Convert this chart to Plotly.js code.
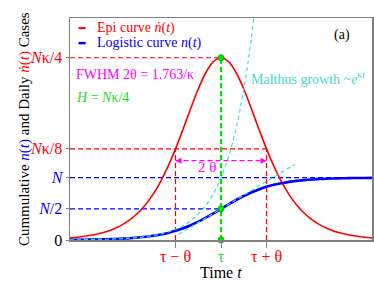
<!DOCTYPE html>
<html>
<head>
<meta charset="utf-8">
<script src="https://cdn.plot.ly/plotly-3.0.1.min.js"></script>
<style>html,body{margin:0;padding:0;background:#fff;}#chart{width:374px;height:286px;}</style>
</head>
<body>
<div id="chart"></div>
<script>
// Parameters (N normalised to 1, time normalised to [0,1])
const N = 1;
const kappa = 11.7;
const tau = 0.5;
const theta = 0.1507;          // half width at half maximum
const H = 2.925;               // peak of the epi curve, N*kappa/4
const arrowLevel = 1.273;      // height of the 2θ arrow

// Time samples
const time = [0,0.025,0.05,0.075,0.1,0.125,0.15,0.175,0.2,0.225,0.25,0.275,0.3,0.325,0.35,0.375,0.4,0.425,0.45,0.475,0.5,
              0.525,0.55,0.575,0.6,0.625,0.65,0.675,0.7,0.725,0.75,0.775,0.8,0.825,0.85,0.875,0.9,0.925,0.95,0.975,1];
// Logistic (cumulative) curve n(t)
const logistic = [0.003,0.004,0.005,0.007,0.009,0.012,0.016,0.022,0.029,0.039,0.051,0.067,0.088,0.114,0.147,0.188,0.237,0.294,0.358,0.427,0.5,
                  0.573,0.642,0.706,0.763,0.812,0.853,0.886,0.912,0.933,0.949,0.961,0.971,0.978,0.984,0.988,0.991,0.993,0.995,0.996,0.997];
// Epi (daily) curve ṅ(t)
const epi = [0.034,0.045,0.060,0.080,0.107,0.142,0.189,0.250,0.330,0.433,0.566,0.732,0.938,1.185,1.471,1.787,2.115,2.427,2.688,2.863,2.925,
             2.863,2.688,2.427,2.115,1.787,1.471,1.185,0.938,0.732,0.566,0.433,0.330,0.250,0.189,0.142,0.107,0.080,0.060,0.045,0.034];
// Malthus exponential growth
const malthusTime = [0,0.025,0.05,0.075,0.1,0.125,0.15,0.175,0.2,0.225,0.25,0.275,0.3,0.325,0.35,0.375,0.4,0.425,0.45,0.475,0.5,0.525,0.55,0.575,0.6,0.625];
const malthus = [0.0029,0.0039,0.0052,0.0069,0.0093,0.0124,0.0167,0.0223,0.0299,0.040,0.0537,0.0719,0.0963,0.129,0.173,0.232,0.310,0.416,0.557,0.746,1.0,1.340,1.795,2.405,3.222,4.317];
// Tangent line at the inflection point
const tangentTime = [0.36, 0.745];
const tangentValue = [0.0905, 1.2166];

// Tick labels
const yTickVals = [0, N/2, N, H/2, H];
const yTickText = ["0", "<span style='color:#0000ff'><i>N</i>/2</span>", "<span style='color:#0000ff'><i>N</i></span>",
                   "<span style='color:#ff0000'><i>N</i>κ/8</span>", "<span style='color:#ff0000'><i>N</i>κ/4</span>"];
const xTickVals = [tau - theta, tau, tau + theta];
const xTickText = ["<span style='color:#ff0000'>τ − θ</span>", "<span style='color:#22dd22'>τ</span>", "<span style='color:#ff0000'>τ + θ</span>"];

const RED = '#ff0000', BLUE = '#0000ff', CYAN = '#40e0d0', GREEN = '#00e600', MAG = '#ff00ff';
const FONT = 'Liberation Serif, Times New Roman, serif';
const dashR = '5px,3px';

function seg(x, y, color, width, dash) {
  return {x: x, y: y, mode: 'lines', line: {color: color, width: width, dash: dash}, hoverinfo: 'skip', showlegend: false};
}

const traces = [
  seg([0, tau], [H, H], RED, 1.2, dashR),
  seg([0, tau + theta], [H/2, H/2], RED, 1.2, dashR),
  seg([tau - theta, tau - theta], [0, H/2], RED, 1.2, dashR),
  seg([tau + theta, tau + theta], [0, H/2], RED, 1.2, dashR),
  seg([0, 1], [N, N], BLUE, 1.2, dashR),
  seg([0, tau], [N/2, N/2], BLUE, 1.2, dashR),
  seg([tau - theta, tau + theta], [arrowLevel, arrowLevel], MAG, 1.2, dashR),
  {x: time, y: epi, mode: 'lines', line: {color: RED, width: 1.6, shape: 'spline'}, showlegend: false},
  {x: time, y: logistic, mode: 'lines', line: {color: BLUE, width: 2.6, shape: 'spline'}, showlegend: false},
  {x: malthusTime, y: malthus, mode: 'lines', line: {color: CYAN, width: 1.2, dash: '4px,3px', shape: 'spline'}, showlegend: false},
  seg(tangentTime, tangentValue, CYAN, 1.2, '4px,3px'),
  seg([tau, tau], [0, H], GREEN, 2.2, '5px,3px'),
  {x: [tau, tau, tau], y: [H, N/2, 0], mode: 'markers', marker: {color: GREEN, size: 6, line: {width: 0.8, color: '#00a000'}}, cliponaxis: false, showlegend: false}
];

const annotations = [
  {text: "<span style='color:#ff0000'>Epi curve <i>ṅ</i>(<i>t</i>)</span>", x: 0.084, y: 3.40, xanchor: 'left', yanchor: 'middle', font: {size: 14}},
  {text: "<span style='color:#0000ff'>Logistic curve <i>n</i>(<i>t</i>)</span>", x: 0.084, y: 3.16, xanchor: 'left', yanchor: 'middle', font: {size: 14}},
  {text: "FWHM 2θ = 1.763/κ", x: 0.013, y: 2.65, xanchor: 'left', yanchor: 'middle', font: {size: 14, color: MAG}},
  {text: "<i>H</i> = <i>N</i>κ/4", x: 0.013, y: 2.295, xanchor: 'left', yanchor: 'middle', font: {size: 14, color: '#22dd22'}},
  {text: "Malthus growth ~<i>e</i><sup>κ<i>t</i></sup>", x: 0.593, y: 2.60, xanchor: 'left', yanchor: 'middle', font: {size: 14, color: '#48d8cc'}},
  {text: "(a)", x: 0.90, y: 3.29, xanchor: 'center', yanchor: 'middle', font: {size: 14, color: '#000'}},
  {text: "2 θ", x: 0.452, y: 1.17, xanchor: 'center', yanchor: 'middle', font: {size: 15, color: MAG}},
  {text: ' ', x: tau - theta, y: arrowLevel, ax: 9, ay: 0, showarrow: true, arrowhead: 2, arrowsize: 1, arrowwidth: 1.2, arrowcolor: MAG},
  {text: ' ', x: tau + theta, y: arrowLevel, ax: -9, ay: 0, showarrow: true, arrowhead: 2, arrowsize: 1, arrowwidth: 1.2, arrowcolor: MAG},
  {text: "Cummulative <span style='color:#0000ff'><i>n</i>(<i>t</i>)</span> and Daily <span style='color:#ff0000'><i>ṅ</i>(<i>t</i>)</span> Cases",
   xref: 'paper', yref: 'paper', x: -0.152, y: 0.5, xanchor: 'center', yanchor: 'middle', textangle: -90, font: {size: 15, color: '#000'}},
  {text: "Time <i>t</i>", xref: 'paper', yref: 'paper', x: 0.5, y: -0.148, xanchor: 'center', yanchor: 'middle', font: {size: 16, color: '#000'}}
].map(a => Object.assign({xref: 'x', yref: 'y', showarrow: false}, a));

const shapes = [
  {type: 'line', xref: 'x', yref: 'y', x0: 0.028, x1: 0.052, y0: 3.40, y1: 3.40, line: {color: RED, width: 2}},
  {type: 'line', xref: 'x', yref: 'y', x0: 0.028, x1: 0.052, y0: 3.16, y1: 3.16, line: {color: BLUE, width: 2.5}}
];

const layout = {
  width: 374, height: 286,
  margin: {l: 70, r: 2, t: 18, b: 46},
  paper_bgcolor: '#fff', plot_bgcolor: '#fff',
  font: {family: FONT, size: 16, color: '#000'},
  showlegend: false,
  xaxis: {range: [0, 1], showgrid: false, zeroline: false, showline: true, mirror: true, linecolor: '#808080', linewidth: 1.5,
          tickvals: xTickVals, ticktext: xTickText, ticks: 'outside', ticklen: 6, tickcolor: '#808080', tickfont: {size: 16},
          tickangle: 0, ticklabelstandoff: -5},
  yaxis: {range: [0, 3.563], showgrid: false, zeroline: false, showline: true, mirror: true, linecolor: '#808080', linewidth: 1.5,
          tickvals: yTickVals, ticktext: yTickText, ticks: 'outside', ticklen: 3, tickcolor: '#808080', tickfont: {size: 16},
          tickangle: 0},
  annotations: annotations,
  shapes: shapes
};

Plotly.newPlot('chart', traces, layout, {displayModeBar: false, staticPlot: true});
</script>
</body>
</html>
